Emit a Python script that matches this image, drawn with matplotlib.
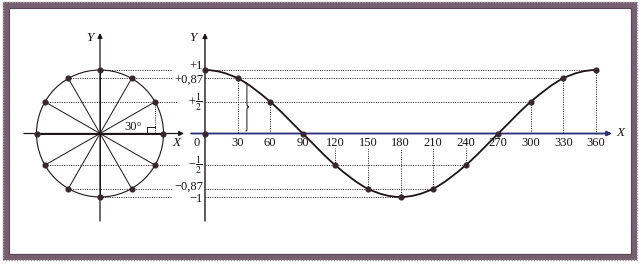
import numpy as np
import matplotlib
matplotlib.use("Agg")
import matplotlib.pyplot as plt
from matplotlib.path import Path
from matplotlib.patches import PathPatch, Rectangle, Circle

plt.rcParams['font.family'] = ['Liberation Serif', 'DejaVu Serif']
plt.rcParams['mathtext.fontset'] = 'stix'

# ---- data ----
angles = [0, 30, 60, 90, 120, 150, 180, 210, 240, 270, 300, 330, 360]
cos_values = [1, 0.87, 0.5, 0, -0.5, -0.87, -1, -0.87, -0.5, 0, 0.5, 0.87, 1]
circle_angles = [0, 30, 60, 90, 120, 150, 180, 210, 240, 270, 300, 330]
circle_x = [1, 0.87, 0.5, 0, -0.5, -0.87, -1, -0.87, -0.5, 0, 0.5, 0.87]
circle_y = [0, 0.5, 0.87, 1, 0.87, 0.5, 0, -0.5, -0.87, -1, -0.87, -0.5]
tick_labels = ['0', '30', '60', '90', '120', '150', '180', '210', '240', '270', '300', '330', '360']
level_values = [1, 0.87, 0.5, -0.5, -0.87, -1]
level_labels = ['+1', '+0,87', r'$+\,\dfrac{1}{2}$', r'$-\,\dfrac{1}{2}$', '\u22120,87', '\u22121']
# circle point where each level line starts (x on unit circle)
level_start_x = [0, -0.5, -0.87, -0.87, -0.5, 0]
# curve angle where each level line ends
level_end_angle = [360, 330, 300, 240, 210, 180]

W, H = 640, 264
fig = plt.figure(figsize=(W / 100, H / 100), dpi=100)
fig.patch.set_facecolor('white')

INK = '#1e1418'
DOT = '#3a2630'
BLUE = '#2a2c78'

# background / frame axes in pixel coordinates
bg = fig.add_axes([0, 0, 1, 1])
bg.set_xlim(0, W)
bg.set_ylim(H, 0)
bg.axis('off')
bg.add_patch(Rectangle((6, 5), 628, 251.5, fill=False, ec='#76606f', lw=4.4))
bg.add_patch(Rectangle((3, 2), 634, 257.5, fill=False, ec='#a797a3', lw=1.0, ls=(0, (1, 1))))
bg.add_patch(Rectangle((9, 8), 622, 245.5, fill=False, ec='#5a4656', lw=0.8))

R = 63.5
cy = 133.5

# ---- circle axes ----
ccx = 100
axc = fig.add_axes([(ccx - R) / W, (H - cy - R) / H, 2 * R / W, 2 * R / H])
axc.set_xlim(-1, 1)
axc.set_ylim(-1, 1)
axc.axis('off')

def px2cx(px):
    return (px - ccx) / R

def py2v(py):
    return (cy - py) / R

axc.add_patch(Circle((0, 0), 1, fill=False, ec=INK, lw=0.8, clip_on=False))
# axes with arrows
axc.annotate('', xy=(px2cx(184), 0), xytext=(px2cx(24), 0),
             arrowprops=dict(arrowstyle='-|>', color=INK, lw=0.9, mutation_scale=7,
                             shrinkA=0, shrinkB=0), annotation_clip=False)
axc.annotate('', xy=(0, py2v(33)), xytext=(0, py2v(221)),
             arrowprops=dict(arrowstyle='-|>', color=INK, lw=0.9, mutation_scale=7,
                             shrinkA=0, shrinkB=0), annotation_clip=False)
for x, y in zip(circle_x, circle_y):
    axc.plot([0, x], [0, y], color=INK, lw=0.7, clip_on=False)
axc.plot(circle_x, circle_y, 'o', color=DOT, ms=3.4, clip_on=False, zorder=5)
axc.text(px2cx(90), py2v(38), 'Y', style='italic', fontsize=9.5, ha='center', va='center', color=INK)
axc.text(px2cx(177), py2v(143), 'X', style='italic', fontsize=9.5, ha='center', va='center', color=INK)
axc.text(px2cx(133), py2v(127), '30°', fontsize=9, ha='center', va='center', color=INK)
# right angle marker and dotted drop
axc.plot([circle_x[1], circle_x[1]], [circle_y[1], 0], color=INK, lw=0.7, ls=(0, (1, 1.2)), clip_on=False)
axc.plot([px2cx(147.5), px2cx(147.5), px2cx(155)], [0, py2v(126.5), py2v(126.5)],
         color=INK, lw=0.7, clip_on=False)
# dotted level lines on the circle side
level_left_end = [171, 172, 178, 179, 172, 172]
for v, sx, ex in zip(level_values, level_start_x, level_left_end):
    axc.plot([sx, px2cx(ex)], [v, v], color=INK, lw=0.7, ls=(0, (1, 1.4)), clip_on=False)

# ---- cosine axes ----
x0, x360 = 205, 596
ax = fig.add_axes([x0 / W, (H - cy - R) / H, (x360 - x0) / W, 2 * R / H])
ax.set_xlim(0, 360)
ax.set_ylim(-1, 1)
ax.axis('off')
degpx = (x360 - x0) / 360.0

def px2deg(px):
    return (px - x0) / degpx

# axes
ax.annotate('', xy=(px2deg(612), 0), xytext=(px2deg(191), 0),
            arrowprops=dict(arrowstyle='-|>', color=BLUE, lw=1.3, mutation_scale=7,
                            shrinkA=0, shrinkB=0), annotation_clip=False, zorder=2)
ax.annotate('', xy=(0, py2v(33)), xytext=(0, py2v(221)),
            arrowprops=dict(arrowstyle='-|>', color=INK, lw=1.0, mutation_scale=7,
                            shrinkA=0, shrinkB=0), annotation_clip=False, zorder=3)
ax.text(px2deg(193), py2v(38), 'Y', style='italic', fontsize=9.5, ha='center', va='center', color=INK)
ax.text(px2deg(621), py2v(133), 'X', style='italic', fontsize=9.5, ha='center', va='center', color=INK)

# level dotted lines + labels
for v, lab, ea in zip(level_values, level_labels, level_end_angle):
    ax.plot([0, ea], [v, v], color=INK, lw=0.7, ls=(0, (1, 1.4)), clip_on=False, zorder=1)
label_offsets = {1: -4, 0.87: 1.5, 0.5: 0, -0.5: 0, -0.87: -2.5, -1: 1.5}
label_sizes = {1: 9, 0.87: 9, 0.5: 7, -0.5: 7, -0.87: 9, -1: 9}
for v, lab in zip(level_values, level_labels):
    ax.text(px2deg(203), v + py2v(cy + label_offsets[v]), lab, fontsize=label_sizes[v],
            ha='right', va='center', color=INK)

# tick labels
for a, t in zip(angles, tick_labels):
    xp = a if a != 0 else px2deg(197)
    ax.text(xp, py2v(142.5), t, fontsize=9, ha='center', va='center', color=INK)

# vertical dotted drops
for a, v in zip(angles, cos_values):
    if a in (0, 90, 270):
        continue
    if v > 0:
        ax.plot([a, a], [v, 0], color=INK, lw=0.7, ls=(0, (1, 1.4)), clip_on=False, zorder=1)
    else:
        ax.plot([a, a], [v, py2v(148)], color=INK, lw=0.7, ls=(0, (1, 1.4)), clip_on=False, zorder=1)

# smooth curve through the points (cubic Bezier, Catmull-Rom tangents)
pts = np.array(list(zip(angles, cos_values)), dtype=float)
ext = np.vstack([[2 * pts[0, 0] - pts[1, 0], pts[1, 1]], pts,
                 [2 * pts[-1, 0] - pts[-2, 0], pts[-2, 1]]])
verts = [tuple(pts[0])]
codes = [Path.MOVETO]
for i in range(1, len(ext) - 2):
    p0, p1, p2, p3 = ext[i - 1], ext[i], ext[i + 1], ext[i + 2]
    c1 = p1 + (p2 - p0) / 6.0
    c2 = p2 - (p3 - p1) / 6.0
    verts += [tuple(c1), tuple(c2), tuple(p2)]
    codes += [Path.CURVE4] * 3
ax.add_patch(PathPatch(Path(verts, codes), fill=False, ec=INK, lw=1.3, clip_on=False, zorder=4))
ax.plot(angles, cos_values, 'o', color=DOT, ms=3.4, clip_on=False, zorder=5)
ax.plot([0], [0], 'o', color=DOT, ms=3.4, clip_on=False, zorder=5)

# curly brace next to the 30 degree drop
bx = px2deg(245.5)
bw = px2deg(249) - bx
top, bot = cos_values[1] - 0.07, 0.04
mid = (top + bot) / 2
bverts = [(bx, top), (bx + bw * 0.6, top), (bx + bw * 0.4, top - 0.02), (bx + bw * 0.4, top - 0.08),
          (bx + bw * 0.4, mid + 0.06),
          (bx + bw * 0.4, mid + 0.02), (bx + bw * 0.6, mid), (bx + bw, mid),
          (bx + bw * 0.6, mid), (bx + bw * 0.4, mid - 0.02), (bx + bw * 0.4, mid - 0.06),
          (bx + bw * 0.4, bot + 0.08),
          (bx + bw * 0.4, bot + 0.02), (bx + bw * 0.6, bot), (bx, bot)]
bcodes = [Path.MOVETO, Path.CURVE4, Path.CURVE4, Path.CURVE4, Path.LINETO,
          Path.CURVE4, Path.CURVE4, Path.CURVE4,
          Path.CURVE4, Path.CURVE4, Path.CURVE4, Path.LINETO,
          Path.CURVE4, Path.CURVE4, Path.CURVE4]
ax.add_patch(PathPatch(Path(bverts, bcodes), fill=False, ec=INK, lw=0.7, clip_on=False))

fig.savefig('out.png', dpi=100, facecolor='white')
